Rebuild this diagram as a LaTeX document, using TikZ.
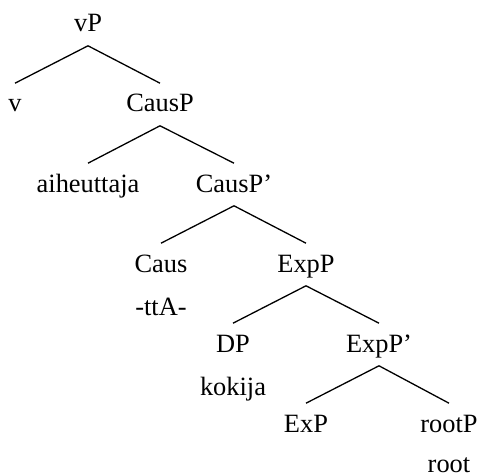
\documentclass[tikz,border=0pt]{standalone}
\usepackage{fontspec}
\setmainfont{Liberation Serif}
\begin{document}
\begin{tikzpicture}[x=0.5pt,y=-0.5pt,
  lbl/.style={anchor=base, inner sep=0pt, font=\fontsize{13.2}{15}\selectfont},
  branch/.style={line width=0.65pt}]
\useasboundingbox (0,0) rectangle (482,476);
\node[lbl] (vP) at (88,32) {vP};
\node[lbl] (v) at (15,112) {v};
\node[lbl] (CausP) at (160,112) {CausP};
\node[lbl] (aih) at (88,192) {aiheuttaja};
\node[lbl] (CausPb) at (234,192) {CausP’};
\node[lbl] (Caus) at (161,272) {Caus};
\node[lbl] (tta) at (161,315) {-ttA-};
\node[lbl] (ExpP) at (306,272) {ExpP};
\node[lbl] (DP) at (233,352) {DP};
\node[lbl] (kok) at (233,395) {kokija};
\node[lbl] (ExpPb) at (379,352) {ExpP’};
\node[lbl] (ExP) at (306,432) {ExP};
\node[lbl] (rootP) at (449,432) {rootP};
\node[lbl] (root) at (449,472) {root};
\foreach \p/\c in {vP/v, vP/CausP, CausP/aih, CausP/CausPb, CausPb/Caus, CausPb/ExpP, ExpP/DP, ExpP/ExpPb, ExpPb/ExP, ExpPb/rootP}
  \draw[branch] ([yshift=-6.9pt]\p.base) -- ([yshift=14.4pt]\c.base);
\end{tikzpicture}
\end{document}
